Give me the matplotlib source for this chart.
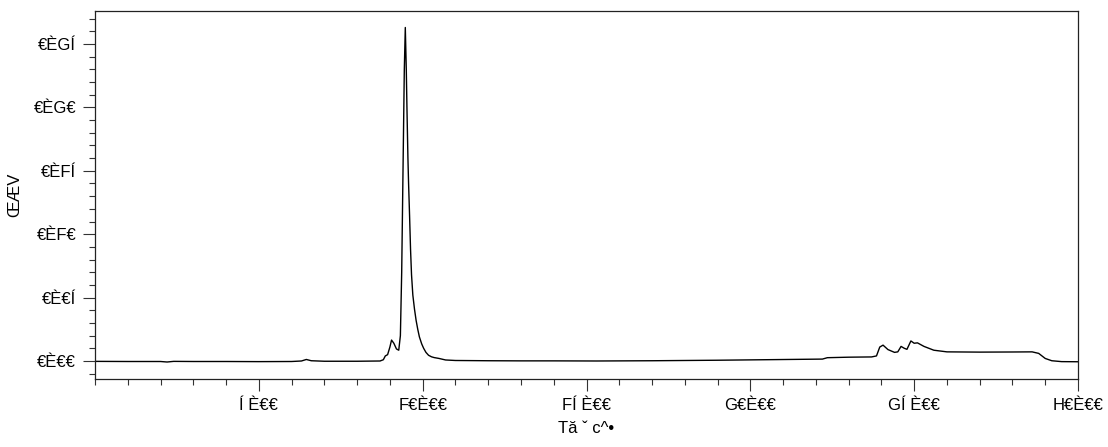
import matplotlib
matplotlib.use("Agg")
import matplotlib.pyplot as plt
from matplotlib.ticker import MultipleLocator, FixedLocator

plt.rcParams['font.family'] = ['Liberation Sans', 'DejaVu Sans']

# Data
time_min = [0.0, 1.0, 2.0, 2.2, 2.4, 3.0, 4.0, 5.0, 6.0, 6.3, 6.45, 6.6, 7.0, 8.0,
            8.7, 8.80, 8.86, 8.93, 9.00, 9.05, 9.12, 9.20, 9.27, 9.32, 9.36, 9.40,
            9.44, 9.47, 9.50, 9.52, 9.55, 9.57, 9.60, 9.63, 9.66, 9.70, 9.75, 9.80,
            9.85, 9.90, 9.97, 10.03, 10.10, 10.18, 10.27, 10.35,
            10.5, 10.7, 11.0, 12.0, 13.0, 14.0, 15.3, 17.0, 19.0, 21.5, 22.2, 22.35,
            23.0, 23.7, 23.85, 23.95, 24.05, 24.2, 24.4, 24.5, 24.6, 24.7, 24.78,
            24.9, 25.0, 25.1, 25.3, 25.6, 26.0, 27.0, 28.0, 28.6, 28.8, 29.0, 29.2,
            29.5, 30.0]
absorbance = [-0.0003, -0.0004, -0.0004, -0.0008, -0.0003, -0.0004, -0.0004, -0.0005,
              -0.0004, 0.0000, 0.0012, 0.0002, -0.0002, -0.0002,
              0.0000, 0.0010, 0.0040, 0.0050, 0.0110, 0.0165, 0.0140, 0.0095, 0.0085,
              0.0200, 0.0700, 0.1500, 0.2300, 0.2630, 0.2300, 0.2000, 0.1600, 0.1400,
              0.1150, 0.0880, 0.0680, 0.0520, 0.0410, 0.0320,
              0.0250, 0.0190, 0.0135, 0.0100, 0.0068, 0.0045, 0.0033, 0.0027,
              0.0020, 0.0008, 0.0004, 0.0002,
              0.0001, 0.0001, 0.0000, 0.0002, 0.0006, 0.0013, 0.0015, 0.0026,
              0.0030, 0.0032, 0.0040, 0.0110, 0.0125, 0.0090, 0.0068, 0.0072, 0.0115,
              0.0100, 0.0092, 0.0158, 0.0140, 0.0143, 0.0115, 0.0085, 0.0072, 0.0070,
              0.0071, 0.0072, 0.0060, 0.0020, 0.0002, -0.0005, -0.0006]

x_tick_values = [5, 10, 15, 20, 25, 30]
x_tick_labels = ["Í È€€", "F€È€€", "FÍ È€€", "G€È€€", "GÍ È€€", "H€È€€"]
y_tick_values = [0.00, 0.05, 0.10, 0.15, 0.20, 0.25]
y_tick_labels = ["€È€€", "€È€Í", "€ÈF€", "€ÈFÍ", "€ÈG€", "€ÈGÍ"]
x_label = "Tă ˇ c^•"
y_label = "ŒÆV"

fig = plt.figure(figsize=(11.08, 4.47), dpi=100)
ax = fig.add_axes([95/1108, 1 - 379/447, (1078 - 95)/1108, (379 - 11)/447])

ax.plot(time_min, absorbance, color='black', linewidth=1.0)

ax.set_xlim(0, 30)
ax.set_ylim(-0.0142, 0.276)

ax.xaxis.set_major_locator(FixedLocator(x_tick_values))
ax.set_xticklabels(x_tick_labels)
ax.xaxis.set_minor_locator(MultipleLocator(1))
ax.yaxis.set_major_locator(FixedLocator(y_tick_values))
ax.set_yticklabels(y_tick_labels)
ax.yaxis.set_minor_locator(MultipleLocator(0.01))

ax.tick_params(axis='both', which='major', direction='out', length=8.5, width=0.8,
               labelsize=12, pad=5, color='#333333')
ax.tick_params(axis='both', which='minor', direction='out', length=4, width=0.8,
               color='#333333')

for s in ax.spines.values():
    s.set_linewidth(0.9)
    s.set_color('#222222')

ax.set_xlabel(x_label, fontsize=12, labelpad=6)
ax.set_ylabel(y_label, fontsize=12, labelpad=8)

fig.savefig("out.png", dpi=100)
